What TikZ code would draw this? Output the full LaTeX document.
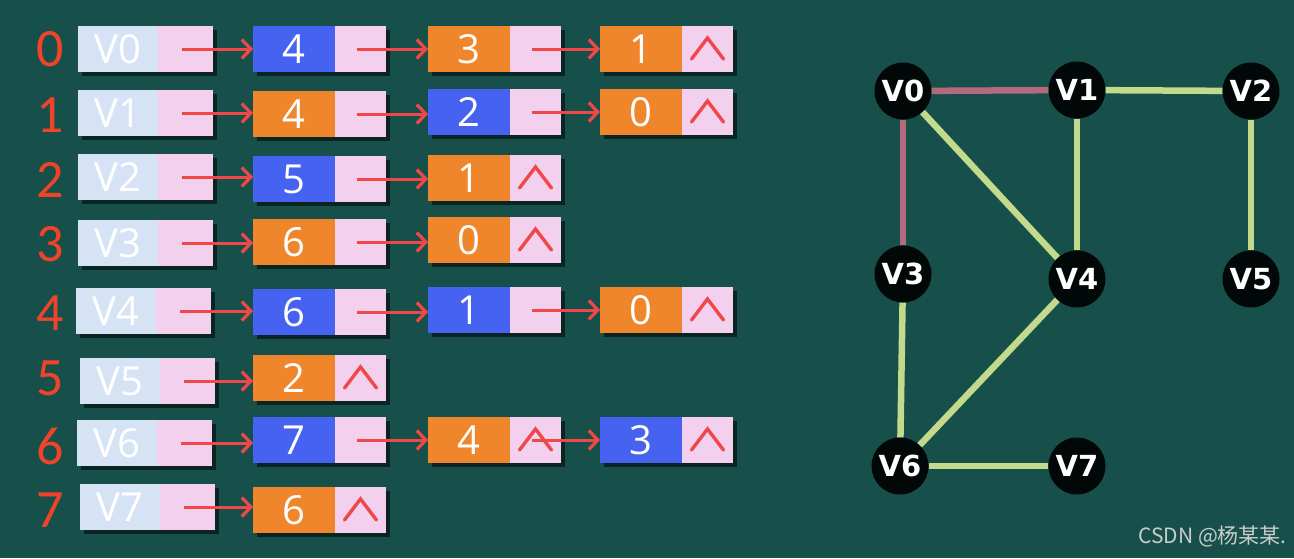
\documentclass[tikz,border=0pt]{standalone}
\usepackage{fontspec}
\usetikzlibrary{arrows.meta}
\newfontfamily\cellfont{Open Sans}
\newfontfamily\idxfont{Carlito}
\newfontfamily\gfont{DejaVu Sans}
\newfontfamily\cjkfont{Noto Sans CJK SC}
\definecolor{bgc}{HTML}{17504A}
\definecolor{lightc}{HTML}{D6E3F5}
\definecolor{pinkc}{HTML}{F2D0EE}
\definecolor{bluec}{HTML}{4563F0}
\definecolor{orangec}{HTML}{F0862C}
\definecolor{arrc}{HTML}{F04848}
\definecolor{idxc}{HTML}{F0442A}
\definecolor{edgepink}{HTML}{B46A7C}
\definecolor{edgegreen}{HTML}{C3D98C}
\definecolor{markc}{HTML}{C8CDCC}
\tikzset{
  datbox/.style={rectangle, minimum width=82pt, minimum height=46pt, inner sep=0pt, outer sep=0pt, text=white, font=\cellfont\fontsize{40}{40}\selectfont},
  headbox/.style={datbox, fill=lightc, minimum width=80pt},
  ptrbox/.style={rectangle, fill=pinkc, minimum width=51pt, minimum height=46pt, inner sep=0pt, outer sep=0pt},
  hptrbox/.style={ptrbox, minimum width=55pt},
  shadowc/.style={fill=black, opacity=0.55},
  arr/.style={draw=arrc, line width=3pt, -{Straight Barb[length=9pt, width=19pt, line width=3.2pt]}},
  nullc/.style={draw=arrc, line width=3.4pt, line cap=round, line join=miter},
  idx/.style={text=idxc, font=\idxfont\fontsize{54}{54}\selectfont, inner sep=0pt},
  gnode/.style={circle, fill=black!90!bgc, minimum size=57pt, inner sep=0pt, text=white, font=\gfont\bfseries\fontsize{29}{29}\selectfont},
  pedge/.style={draw=edgepink, line width=6.5pt},
  gedge/.style={draw=edgegreen, line width=6.5pt},
}
\newcommand{\headcell}[4]{%
  \fill[shadowc] (#2+4,#3-23+4) rectangle (#2+135+4,#3+23+4);
  \node[headbox, anchor=west] (#1d) at (#2,#3) {#4};
  \node[hptrbox, anchor=west] (#1p) at (#1d.east) {};
}
\newcommand{\listcell}[5]{%
  \fill[shadowc] (#2+4,#3-23+4) rectangle (#2+133+4,#3+23+4);
  \node[datbox, fill=#4, anchor=west] (#1d) at (#2,#3) {#5};
  \node[ptrbox, anchor=west] (#1p) at (#1d.east) {};
}
\newcommand{\nullmark}[1]{\draw[nullc] (#1.center) ++(-16,10) -- ++(16,-21) -- ++(16,21);}
\newcommand{\link}[2]{\draw[arr] ([xshift=-4pt]#1.center) -- (#1.center -| #2.west);}
\begin{document}
\begin{tikzpicture}[x=1pt, y=-1pt]
\fill[bgc] (0,0) rectangle (1294,558);
\useasboundingbox (0,0) rectangle (1294,558);
% index numbers
\node[idx] (i0) at (50,49) {0};
\node[idx] (i1) at (50,115) {1};
\node[idx] (i2) at (50,180) {2};
\node[idx] (i3) at (50,244) {3};
\node[idx] (i4) at (50,313) {4};
\node[idx] (i5) at (50,378) {5};
\node[idx] (i6) at (50,446) {6};
\node[idx] (i7) at (50,510) {7};
% row 0
\headcell{h0}{78}{49}{V0}
\listcell{a01}{253}{49}{bluec}{4}
\listcell{a02}{428}{49}{orangec}{3}
\listcell{a03}{600}{49}{orangec}{1}
\link{h0p}{a01d}\link{a01p}{a02d}\link{a02p}{a03d}\nullmark{a03p}
% row 1
\headcell{h1}{78}{113}{V1}
\listcell{a11}{253}{114}{orangec}{4}
\listcell{a12}{428}{112}{bluec}{2}
\listcell{a13}{600}{112}{orangec}{0}
\link{h1p}{a11d}\link{a11p}{a12d}\link{a12p}{a13d}\nullmark{a13p}
% row 2
\headcell{h2}{78}{177}{V2}
\listcell{a21}{253}{179}{bluec}{5}
\listcell{a22}{428}{178}{orangec}{1}
\link{h2p}{a21d}\link{a21p}{a22d}\nullmark{a22p}
% row 3
\headcell{h3}{78}{243}{V3}
\listcell{a31}{253}{242}{orangec}{6}
\listcell{a32}{428}{240}{orangec}{0}
\link{h3p}{a31d}\link{a31p}{a32d}\nullmark{a32p}
% row 4
\headcell{h4}{76}{311}{V4}
\listcell{a41}{253}{312}{bluec}{6}
\listcell{a42}{428}{310}{bluec}{1}
\listcell{a43}{600}{310}{orangec}{0}
\link{h4p}{a41d}\link{a41p}{a42d}\link{a42p}{a43d}\nullmark{a43p}
% row 5
\headcell{h5}{80}{381}{V5}
\listcell{a51}{253}{378}{orangec}{2}
\link{h5p}{a51d}\nullmark{a51p}
% row 6
\headcell{h6}{77}{443}{V6}
\listcell{a61}{253}{440}{bluec}{7}
\listcell{a62}{428}{440}{orangec}{4}
\listcell{a63}{600}{440}{bluec}{3}
\link{h6p}{a61d}\link{a61p}{a62d}\nullmark{a62p}\link{a62p}{a63d}\nullmark{a63p}
% row 7
\headcell{h7}{80}{507}{V7}
\listcell{a71}{253}{510}{orangec}{6}
\link{h7p}{a71d}\nullmark{a71p}
% graph
\node[gnode] (v0) at (903,91) {V0};
\node[gnode] (v1) at (1077,90) {V1};
\node[gnode] (v2) at (1251,91) {V2};
\node[gnode] (v3) at (903,274) {V3};
\node[gnode] (v4) at (1077,279) {V4};
\node[gnode] (v5) at (1251,279) {V5};
\node[gnode] (v6) at (900,466) {V6};
\node[gnode] (v7) at (1077,466) {V7};
\draw[pedge] (v0) -- (v1);
\draw[pedge] (v0) -- (v3);
\draw[gedge] (v1) -- (v2);
\draw[gedge] (v1) -- (v4);
\draw[gedge] (v0) -- (v4);
\draw[gedge] (v2) -- (v5);
\draw[gedge] (v3) -- (v6);
\draw[gedge] (v4) -- (v6);
\draw[gedge] (v6) -- (v7);
% watermark
\node[anchor=east, text=markc, font=\cjkfont\fontsize{21}{21}\selectfont, inner sep=0pt] (wm) at (1287,536) {CSDN @杨某某.};
\end{tikzpicture}
\end{document}
